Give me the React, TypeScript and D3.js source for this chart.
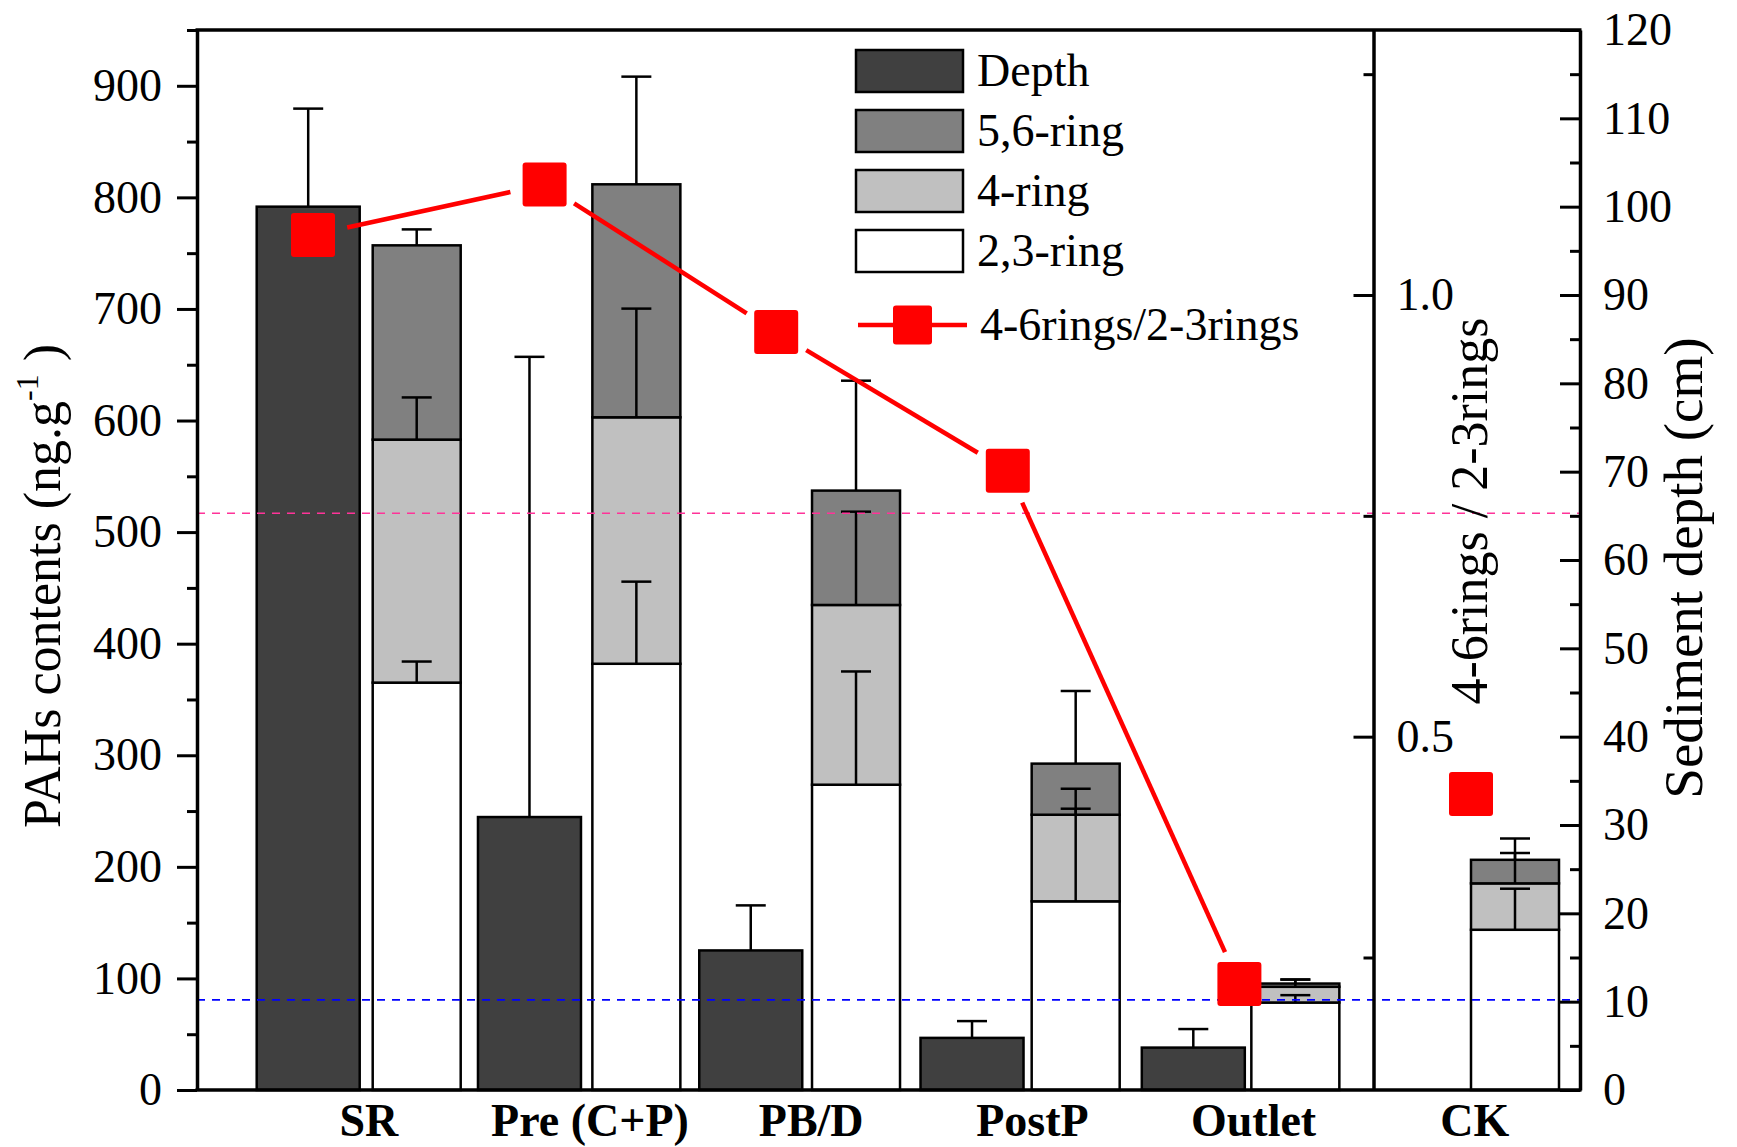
import { useEffect, useRef } from "react";
import * as d3 from "d3";

// categories along the bottom
const categories = ["SR", "Pre (C+P)", "PB/D", "PostP", "Outlet", "CK"];

// sediment depth (cm), right axis - no depth bar for CK
const depth = [100, 30.9, 15.8, 5.9, 4.8];
const depthErr = [11.1, 52.1, 5.1, 1.9, 2.1];

// PAHs contents (ng/g) by ring group, left axis
const ring23 = [365.1, 382.0, 273.6, 169.1, 78.4, 143.6];
const ring23Err = [18.9, 73.6, 101.5, 83.0, 6.6, 36.8];
const ring4 = [217.8, 220.9, 161.1, 77.6, 14.1, 41.6];
const ring4Err = [37.8, 97.4, 83.6, 23.3, 6.5, 27.2];
const ring56 = [174.1, 208.8, 102.5, 45.8, 2.9, 21.1];
const ring56Err = [14.3, 96.5, 98.5, 65.1, 3.6, 19.1];

// 4-6rings / 2-3rings ratio
const ratio = [1.068, 1.125, 0.958, 0.801, 0.22, 0.435];

// reference depths (cm)
const refDepths = [65.3, 10.2];
const refColors = ["#ff3399", "#0000ff"];

const legendLabels = ["Depth", "5,6-ring", "4-ring", "2,3-ring"];
const legendFills = ["#404040", "#808080", "#c0c0c0", "#ffffff"];

const W = 1737;
const H = 1147;
const plot = { left: 197, right: 1580, top: 30, bottom: 1090, split: 1373.5 };
const font = "'Liberation Serif', 'Times New Roman', Tinos, 'Nimbus Roman', 'DejaVu Serif', 'Noto Serif', Times, serif";

const App = () => {
    const svgRef = useRef<SVGSVGElement | null>(null);

    useEffect(() => {
        if (!svgRef.current) return;
        const svg = d3.select(svgRef.current);
        svg.selectAll("*").remove();

        // Scales
        const yLeft = d3.scaleLinear().domain([0, 950]).range([plot.bottom, plot.top]);
        const yDepth = d3.scaleLinear().domain([0, 120]).range([plot.bottom, plot.top]);
        const yRatio = d3.scaleLinear().domain([0.1, 1.3]).range([plot.bottom, plot.top]);

        const xLabel = d3.scaleLinear().domain([0, 5]).range([368.8, 1474.8]);
        const xDepth = d3.scaleLinear().domain([0, 4]).range([308.2, 1193.3]);
        const xStack = d3.scaleLinear().domain([0, 5]).range([416.7, 1515]);
        const xPoint = d3.scaleLinear().domain([0, 5]).range([313, 1471]);
        const depthW = 103;
        const stackW = 88;
        const capW = 30;

        // Depth bars
        const depthG = svg.append("g");
        depth.forEach((d, i) => {
            depthG.append("rect")
                .attr("x", xDepth(i) - depthW / 2)
                .attr("y", yDepth(d))
                .attr("width", depthW)
                .attr("height", yDepth(0) - yDepth(d))
                .attr("fill", "#404040")
                .attr("stroke", "black")
                .attr("stroke-width", 2.5);
        });

        // Stacked ring bars
        const table = categories.map((c, i) => ({ cat: c, r23: ring23[i], r4: ring4[i], r56: ring56[i] }));
        const keys = ["r23", "r4", "r56"];
        const fills: Record<string, string> = { r23: "#ffffff", r4: "#c0c0c0", r56: "#808080" };
        const errs: Record<string, number[]> = { r23: ring23Err, r4: ring4Err, r56: ring56Err };
        const series = d3.stack<any>().keys(keys)(table);

        const stackG = svg.append("g");
        series.forEach((s) => {
            s.forEach((seg, i) => {
                stackG.append("rect")
                    .attr("x", xStack(i) - stackW / 2)
                    .attr("y", yLeft(seg[1]))
                    .attr("width", stackW)
                    .attr("height", yLeft(seg[0]) - yLeft(seg[1]))
                    .attr("fill", fills[s.key])
                    .attr("stroke", "black")
                    .attr("stroke-width", 2.5);
            });
        });

        // Error bars
        const errG = svg.append("g").attr("stroke", "black").attr("stroke-width", 2.5);
        const errorBar = (x: number, y0: number, y1: number) => {
            errG.append("line").attr("x1", x).attr("x2", x).attr("y1", y0).attr("y2", y1);
            errG.append("line").attr("x1", x - capW / 2).attr("x2", x + capW / 2).attr("y1", y1).attr("y2", y1);
        };
        depth.forEach((d, i) => errorBar(xDepth(i), yDepth(d), yDepth(d + depthErr[i])));
        series.forEach((s) => {
            s.forEach((seg, i) => {
                errorBar(xStack(i), yLeft(seg[1]), yLeft(seg[1] + errs[s.key][i]));
            });
        });

        // Reference dashed lines
        refDepths.forEach((d, i) => {
            svg.append("line")
                .attr("x1", plot.left).attr("x2", plot.right)
                .attr("y1", yDepth(d)).attr("y2", yDepth(d))
                .attr("stroke", refColors[i])
                .attr("stroke-width", 1.6)
                .attr("stroke-dasharray", "8,7");
        });

        // Ratio line with gaps around markers (CK is not connected)
        const lineG = svg.append("g");
        const gap = 35;
        for (let i = 0; i < 4; i++) {
            const x0 = xPoint(i), y0 = yRatio(ratio[i]);
            const x1 = xPoint(i + 1), y1 = yRatio(ratio[i + 1]);
            const len = Math.hypot(x1 - x0, y1 - y0);
            const ux = (x1 - x0) / len, uy = (y1 - y0) / len;
            lineG.append("line")
                .attr("x1", x0 + ux * gap).attr("y1", y0 + uy * gap)
                .attr("x2", x1 - ux * gap).attr("y2", y1 - uy * gap)
                .attr("stroke", "#ff0000")
                .attr("stroke-width", 4.5);
        }
        const mk = 44;
        lineG.selectAll("rect.pt")
            .data(ratio)
            .enter()
            .append("rect")
            .attr("class", "pt")
            .attr("x", (_d, i) => xPoint(i) - mk / 2)
            .attr("y", (d) => yRatio(d) - mk / 2)
            .attr("width", mk)
            .attr("height", mk)
            .attr("rx", 3)
            .attr("fill", "#ff0000");

        // Axes
        const styleAxis = (g: d3.Selection<SVGGElement, unknown, null, undefined>) => {
            g.attr("font-family", null).attr("font-size", null);
            g.select(".domain").attr("stroke-width", 3.5);
            g.selectAll(".tick line").attr("stroke-width", 3);
            g.selectAll(".tick text").style("font-family", font).style("font-size", "46px").attr("fill", "black");
        };

        const leftAxis = svg.append("g").attr("transform", `translate(${plot.left},0)`)
            .call(d3.axisLeft(yLeft).tickValues(d3.range(0, 901, 100)).tickSize(20).tickPadding(15).tickSizeOuter(0));
        styleAxis(leftAxis);
        const leftMinor = svg.append("g").attr("transform", `translate(${plot.left},0)`)
            .call(d3.axisLeft(yLeft).tickValues(d3.range(50, 951, 100)).tickSize(10).tickFormat(() => "").tickSizeOuter(0));
        styleAxis(leftMinor);
        leftMinor.select(".domain").remove();

        const rightAxis = svg.append("g").attr("transform", `translate(${plot.right},0)`)
            .call(d3.axisRight(yDepth).tickValues(d3.range(0, 121, 10)).tickSize(-20).tickPadding(23).tickSizeOuter(0));
        styleAxis(rightAxis);
        const rightMinor = svg.append("g").attr("transform", `translate(${plot.right},0)`)
            .call(d3.axisRight(yDepth).tickValues(d3.range(5, 116, 10)).tickSize(-10).tickFormat(() => "").tickSizeOuter(0));
        styleAxis(rightMinor);
        rightMinor.select(".domain").remove();

        const ratioAxis = svg.append("g").attr("transform", `translate(${plot.split},0)`)
            .call(d3.axisRight(yRatio).tickValues([0.5, 1.0]).tickSize(-20).tickPadding(23).tickFormat(d3.format(".1f")).tickSizeOuter(0));
        styleAxis(ratioAxis);
        const ratioMinor = svg.append("g").attr("transform", `translate(${plot.split},0)`)
            .call(d3.axisRight(yRatio).tickValues([0.25, 0.75, 1.25]).tickSize(-10).tickFormat(() => "").tickSizeOuter(0));
        styleAxis(ratioMinor);
        ratioMinor.select(".domain").remove();

        // top and bottom frame lines
        [plot.top, plot.bottom].forEach((y) => {
            svg.append("line")
                .attr("x1", plot.left - 1.5).attr("x2", plot.right + 1.5)
                .attr("y1", y).attr("y2", y)
                .attr("stroke", "black").attr("stroke-width", 3.5);
        });

        // Category labels
        svg.append("g").selectAll("text")
            .data(categories)
            .enter()
            .append("text")
            .attr("x", (_d, i) => xLabel(i))
            .attr("y", 1136)
            .attr("text-anchor", "middle")
            .style("font-family", font)
            .style("font-weight", "bold")
            .style("font-size", "46px")
            .text((d) => d);

        // Axis titles
        const leftTitle = svg.append("text")
            .attr("transform", `translate(60,586) rotate(-90)`)
            .attr("text-anchor", "middle")
            .style("font-family", font)
            .style("font-size", "52px");
        leftTitle.append("tspan").text("PAHs contents (ng.g");
        leftTitle.append("tspan").style("font-size", "32px").attr("dy", -22).text("-1");
        leftTitle.append("tspan").attr("dy", 22).text(" )");

        svg.append("text")
            .attr("transform", `translate(1702,568) rotate(-90)`)
            .attr("text-anchor", "middle")
            .style("font-family", font)
            .style("font-size", "55px")
            .text("Sediment depth (cm)");

        svg.append("text")
            .attr("transform", `translate(1487,511) rotate(-90)`)
            .attr("text-anchor", "middle")
            .style("font-family", font)
            .style("font-size", "52px")
            .text("4-6rings / 2-3rings");

        // Legend
        const legend = svg.append("g");
        legendLabels.forEach((label, i) => {
            const top = 50 + i * 60;
            legend.append("rect")
                .attr("x", 856).attr("y", top)
                .attr("width", 107).attr("height", 42)
                .attr("fill", legendFills[i])
                .attr("stroke", "black")
                .attr("stroke-width", 2.5);
            legend.append("text")
                .attr("x", 977).attr("y", top + 36)
                .style("font-family", font).style("font-size", "46px")
                .text(label);
        });
        legend.append("line")
            .attr("x1", 858).attr("x2", 967).attr("y1", 325).attr("y2", 325)
            .attr("stroke", "#ff0000").attr("stroke-width", 4.5);
        legend.append("rect")
            .attr("x", 893).attr("y", 305.5).attr("width", 39).attr("height", 39)
            .attr("rx", 3).attr("fill", "#ff0000");
        legend.append("text")
            .attr("x", 980).attr("y", 340)
            .style("font-family", font).style("font-size", "46px")
            .text("4-6rings/2-3rings");
    }, []);

    return (
        <svg
            ref={svgRef}
            width={W}
            height={H}
            style={{ position: "absolute", left: 0, top: 0, background: "white" }}
        />
    );
};

export default App;
